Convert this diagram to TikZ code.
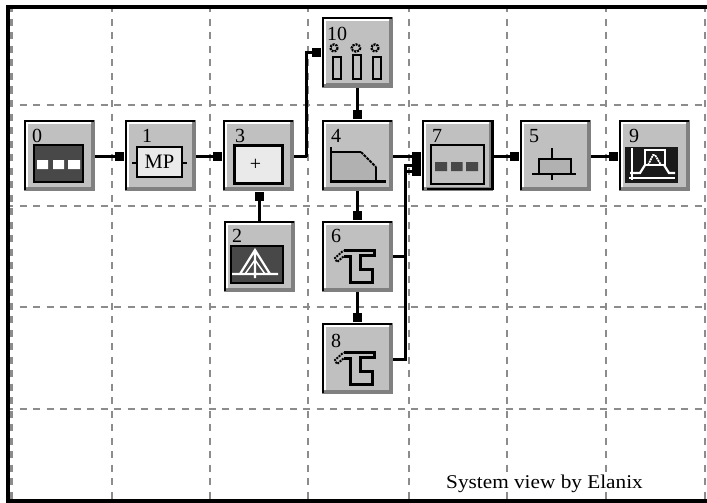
\documentclass[tikz,border=0pt]{standalone}
\usepackage{fontspec}
\setmainfont{Liberation Serif}
\newfontfamily\creditfont[FakeStretch=1.09]{Liberation Serif}
\usetikzlibrary{arrows.meta,calc}
\definecolor{bface}{HTML}{C0C0C0}
\definecolor{bdark}{HTML}{808080}
\definecolor{bpanel}{HTML}{EAEAEA}
\definecolor{bscreen}{HTML}{484848}
\definecolor{bgrid}{HTML}{8C8C8C}
\tikzset{
  gridline/.style={draw=bgrid,line width=2.5pt,dash pattern=on 7pt off 6.5pt},
  framel/.style={line width=4pt,black},
  blockn/.style={minimum width=71pt,minimum height=71pt,inner sep=0pt,outer sep=0pt},
  wire/.style={line width=2.4pt,black},
  link/.style={wire,-{Square[length=9.5pt,width=9pt]},shorten >=.8pt},
  icon/.style={line width=2.2pt,black},
  numlab/.style={font=\fontsize{20}{20}\selectfont,inner sep=0pt,anchor=base west},
}
% #1 name, #2 x left, #3 y top, #4 label, #5 label dx, #6 label dy
\newcommand{\blk}[6]{%
  \node[blockn] (#1) at (#2+35.5,#3+35.5) {};
  \fill[bdark] (#2,#3) rectangle ++(71,71);
  \fill[bface] (#2+2,#3+2) rectangle ++(64.5,64.5);
  \fill[white] (#2+2,#3+2) rectangle ++(65,1.8) (#2+2,#3+2) rectangle ++(1.8,65);
  \draw[line width=2.3pt,black] (#2+1,#3+70) -- (#2+1,#3+1) -- (#2+70,#3+1);
  \node[numlab] at (#2+#5,#3+#6) {#4};
}
\newcommand{\gate}[2]{%
  \draw[icon,fill=bface] (#1+21.5,#2+29.5) -- (#1+52.5,#2+29.5) -- (#1+52.5,#2+34.5) -- (#1+38.5,#2+34.5) -- (#1+38.5,#2+48.5) -- (#1+50.5,#2+48.5) -- (#1+50.5,#2+61.5) -- (#1+28.5,#2+61.5) -- (#1+28.5,#2+35.5) -- (#1+21.5,#2+35.5);
  \draw[line width=2pt,dash pattern=on 2pt off 1pt] (#1+21.5,#2+35.5) -- (#1+15,#2+41) -- (#1+13,#2+37) -- (#1+21.5,#2+29.5);
}
\begin{document}
\begin{tikzpicture}[x=1pt,y=-1pt]
\useasboundingbox (0,0) rectangle (707,503);
\fill[white] (0,0) rectangle (707,503);
% grid
\foreach \gx in {11.5,112,210,308,409,507,606,705}
  \draw[gridline] (\gx,5.5) -- (\gx,499);
\foreach \gy in {105,206,307,409}
  \draw[gridline] (6,\gy) -- (707,\gy);
% frame
\draw[framel] (8,503) -- (8,7) -- (707,7);
\draw[framel] (6,501) -- (707,501);
% blocks
\blk{b0}{24}{120}{0}{8}{22}
\blk{b1}{125}{120}{1}{17}{22}
\blk{b3}{223}{120}{3}{12}{22}
\blk{b2}{224}{221}{2}{8}{21}
\blk{b10}{322}{17}{10}{5}{24}
\blk{b4}{322}{120}{4}{9}{22}
\blk{b6}{322}{221}{6}{9}{21}
\blk{b8}{322}{323}{8}{9}{24}
\blk{b7}{422}{120}{7}{10}{22}
\blk{b5}{520}{120}{5}{9}{22}
\blk{b9}{619}{120}{9}{10}{22}
% block 7 extra frame
\draw[line width=2.3pt] (427,189) -- (492.5,189) -- (492.5,120);
% icon 0
\fill[bscreen] (34,145) rectangle (83,182);
\draw[icon] (34,145) rectangle (83,182);
\fill[white] (37,160) rectangle ++(11,9) (53,160) rectangle ++(11,9) (68,160) rectangle ++(12,9);
% icon 1
\draw[icon] (132,163) -- (187,163);
\node[draw=black,line width=2.2pt,fill=bpanel,minimum width=45pt,minimum height=30pt,inner sep=0pt,font=\fontsize{20.5}{20.5}\selectfont] (mp) at (159.5,162) {MP};
% icon 3
\node[draw=black,line width=2.2pt,fill=bpanel,minimum width=48pt,minimum height=38pt,inner sep=0pt,font=\fontsize{20}{20}\selectfont] (add) at (258.5,164.5) {\hspace*{-6pt}+};
% icon 2
\fill[bscreen] (231,246) rectangle (283,283);
\draw[icon] (231,246) rectangle (283,283);
\draw[white,line width=2.2pt] (232,274) -- (278,274) (240,274) -- (255,250) -- (270,274) (255,250) -- (255,278);
\draw[white,line width=1.5pt] (245,274) -- (255,260) -- (265,274);
% icon 10
\foreach \ix/\iy/\ih in {333/57/22,353/55/24,373/57/22}
  \draw[icon] (\ix,\iy) rectangle ++(8,\ih);
\draw[line width=2.2pt,dash pattern=on 2pt off 1pt] (334,48) circle (3.6) (356,48) ellipse (4.4 and 3.6) (375,48) circle (3.6);
% icon 4
\fill[bface!92!black] (331,152) -- (361,152) -- (376,167) -- (376,181.5) -- (331,181.5) -- cycle;
\draw[icon] (331,147) -- (331,181.5) -- (386,181.5);
\draw[icon] (331,152) -- (361,152);
\draw[line width=2pt,dash pattern=on 3pt off 1pt] (361,152) -- (376,167);
\draw[icon] (376,167) -- (376,181.5);
% icon 7
\draw[line width=2.3pt,fill=bface] (431,145) rectangle (484,184);
\fill[bscreen] (435,162) rectangle ++(12,9) (451,162) rectangle ++(11.5,9) (466,162) rectangle ++(12,9);
% icon 5
\fill[bface!92!black] (539,159) rectangle (571,174);
\draw[icon] (539,174) -- (539,159) -- (571,159) -- (571,174);
\draw[icon] (552,148) -- (552,159) (552,174) -- (552,180);
\draw[line width=2.6pt] (532,174) -- (576,174);
% icon 9
\fill[black!90] (625,147) rectangle (678,183);
\draw[white,line width=2pt] (632,148) -- (632,180) (629,178) -- (675,178);
\draw[white,line width=2.2pt] (630,173) -- (640,173) -- (645,165) (664,165) -- (669,173) -- (675,173);
\draw[white,line width=1.8pt] (645,165) -- (645,150) -- (665,150) -- (665,165) -- (645,165);
\draw[white,line width=1.8pt,dash pattern=on 2pt off .7pt] (648,165) -- (653,155) -- (655,155) -- (661,165);
% icon 6, 8
\gate{322}{221}
\gate{322}{323}
% connectors
\draw[link] ([yshift=-1pt]b0.east) -- ([yshift=-1pt]b1.west);
\draw[link] ([yshift=-1pt]b1.east) -- ([yshift=-1pt]b3.west);
\draw[wire] ([yshift=-1pt]b3.east) -- ++(12.5,0) coordinate (turn);
\draw[link] (turn) |- (b10.west);
\draw[link] (b2.north) -- ++(0,-30);
\draw[link] (b10.south) -- (b4.north);
\draw[link] (b4.south) -- (b6.north);
\draw[link] (b6.south) -- (b8.north);
\draw[link] ([yshift=-1pt]b4.east) -- ([yshift=-1pt]b7.west);
\coordinate (busa) at (405.5,165.5);
\coordinate (busb) at (405.5,171.5);
\draw[wire] (b6.east) -- (b6.east -| busa);
\draw[link] (b6.east -| busa) -- (busa) -- (busa -| b7.west);
\draw[link] ([yshift=-1pt]b8.east) -| (busb) -- (busb -| b7.west);
\draw[link] ([yshift=-1pt]b7.east) -- ([yshift=-1pt]b5.west);
\draw[link] ([yshift=-1pt]b5.east) -- ([yshift=-1pt]b9.west);
\node[fill=white,font=\creditfont\fontsize{19.5}{19.5}\selectfont,inner sep=0pt,anchor=base] (credit) at (544.5,488) {System view by Elanix};
\end{tikzpicture}
\end{document}
